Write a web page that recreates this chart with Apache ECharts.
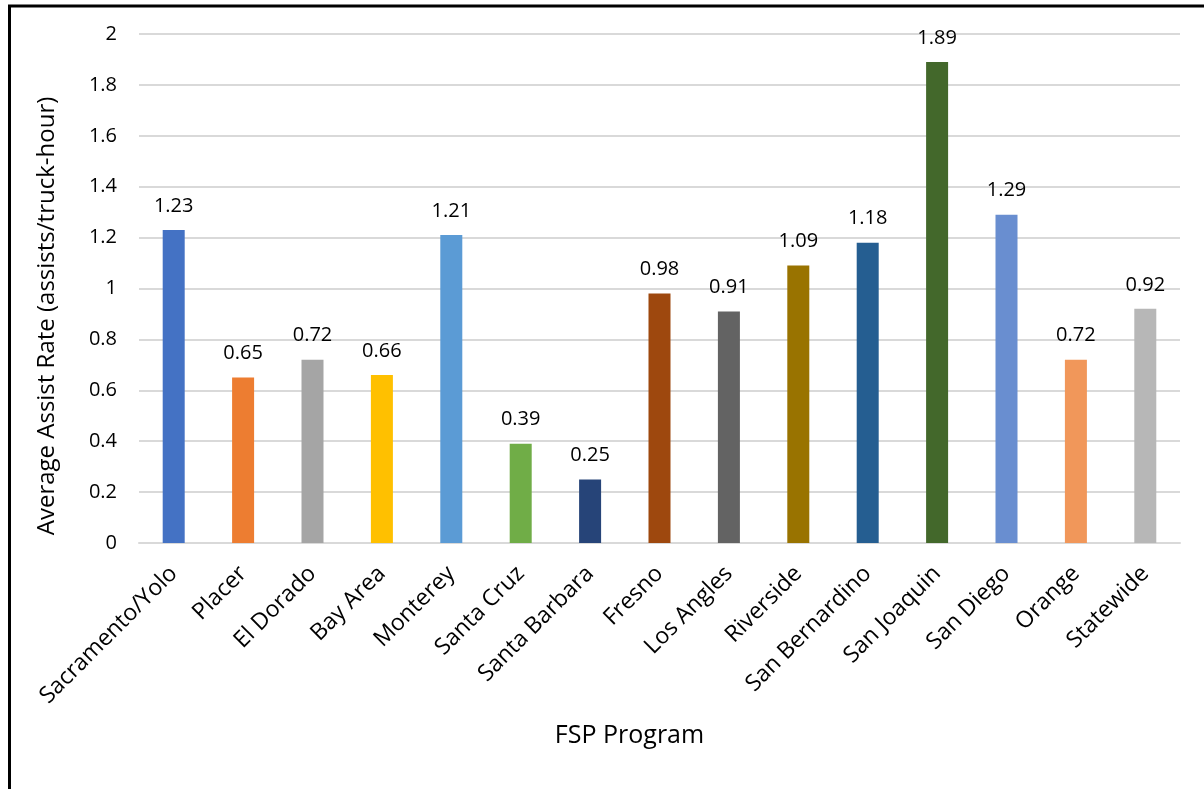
<!DOCTYPE html>
<html><head><meta charset="utf-8">
<script src="https://cdn.jsdelivr.net/npm/echarts@6/dist/echarts.min.js"></script>
<style>html,body{margin:0;padding:0;background:#fff;}#c{width:1204px;height:789px;}</style>
</head><body><div id="c"></div>
<script>
const categories = ["Sacramento/Yolo","Placer","El Dorado","Bay Area","Monterey","Santa Cruz","Santa Barbara","Fresno","Los Angles","Riverside","San Bernardino","San Joaquin","San Diego","Orange","Statewide"];
const values = [1.23,0.65,0.72,0.66,1.21,0.39,0.25,0.98,0.91,1.09,1.18,1.89,1.29,0.72,0.92];
const barColors = ["#4472C4","#ED7D31","#A5A5A5","#FFC000","#5B9BD5","#70AD47","#264478","#9E480E","#636363","#997300","#255E91","#43682B","#698ED0","#F1975A","#B7B7B7"];
const yTicks = {min:0,max:2,interval:0.2};
const yTitle = 'Average Assist Rate (assists/truck-hour)';
const xTitle = 'FSP Program';
const font = "'Open Sans', 'Noto Sans', sans-serif";
const chart = echarts.init(document.getElementById('c'));
chart.setOption({
  animation:false,
  backgroundColor:'#fff',
  grid:{left:139,right:24,top:34,bottom:246,containLabel:false},
  xAxis:{type:'category',data:categories,
    name:xTitle,nameLocation:'middle',nameGap:180,
    nameTextStyle:{fontFamily:font,fontSize:25,color:'#000',padding:[0,60,0,0]},
    axisLine:{lineStyle:{color:'#D9D9D9',width:2}},axisTick:{show:false},
    axisLabel:{rotate:45,interval:0,fontFamily:font,fontSize:23,color:'#000',margin:27}},
  yAxis:{type:'value',min:yTicks.min,max:yTicks.max,interval:yTicks.interval,
    axisLine:{show:false},axisTick:{show:false},
    splitLine:{lineStyle:{color:'#D9D9D9',width:2}},
    axisLabel:{fontFamily:font,fontSize:20,color:'#000',margin:22,
      formatter:v=>String(Math.round(v*10)/10)}},
  series:[{type:'bar',barWidth:22,
    data:values.map((v,i)=>({value:v,itemStyle:{color:barColors[i]}})),
    label:{show:true,position:'top',distance:14,fontFamily:font,fontSize:20,color:'#000',
      formatter:p=>p.value.toFixed(2)}}],
  graphic:[
    {type:'line',shape:{x1:9.5,y1:5,x2:9.5,y2:789},style:{stroke:'#000',lineWidth:3}},
    {type:'line',shape:{x1:8,y1:6,x2:1204,y2:6},style:{stroke:'#000',lineWidth:3}},
    {type:'text',x:47,y:316,rotation:Math.PI/2,
      style:{text:yTitle,font:"24px 'Open Sans', 'Noto Sans', sans-serif",fill:'#000',align:'center',verticalAlign:'middle'}}
  ]
});
</script></body></html>
